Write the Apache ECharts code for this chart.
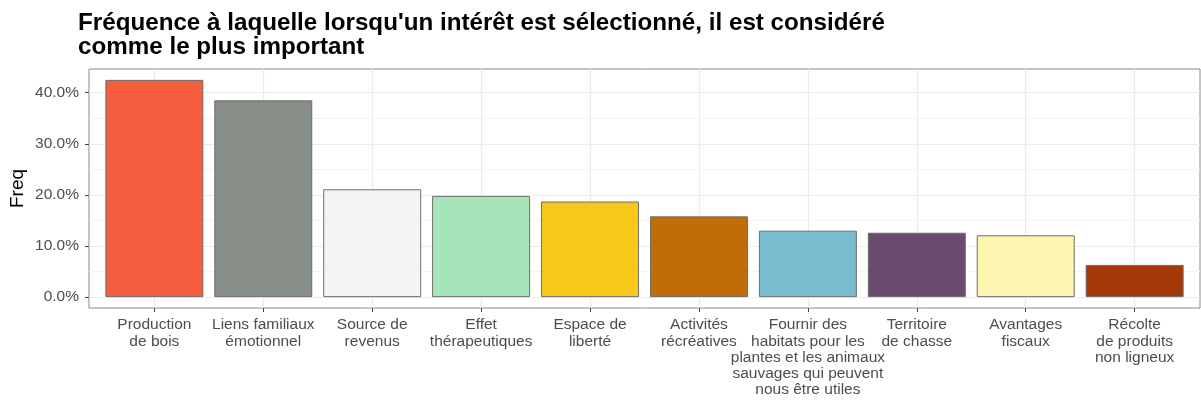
<!DOCTYPE html>
<html>
<head>
<meta charset="utf-8">
<script src="https://cdn.jsdelivr.net/npm/echarts@6/dist/echarts.min.js"></script>
<style>
  html, body { margin: 0; padding: 0; background: #fff; }
  #chart { width: 1201px; height: 403px; }
</style>
</head>
<body>
<div id="chart"></div>
<script>
// categories (x labels, already wrapped like the original)
var categories = [
  "Production\nde bois",
  "Liens familiaux\némotionnel",
  "Source de\nrevenus",
  "Effet\nthérapeutiques",
  "Espace de\nliberté",
  "Activités\nrécréatives",
  "Fournir des\nhabitats pour les\nplantes et les animaux\nsauvages qui peuvent\nnous être utiles",
  "Territoire\nde chasse",
  "Avantages\nfiscaux",
  "Récolte\nde produits\nnon ligneux"
];
// frequency in percent
var freq = [42.5, 38.5, 21.1, 19.8, 18.7, 15.8, 13.0, 12.6, 12.1, 6.3];
var barColors = ["#F55D3F", "#878D87", "#F4F4F4", "#A7E4BA", "#F6C918", "#C16C09",
                 "#77BCCF", "#6A4A6F", "#FCF5AF", "#A43A08"];
var yTicks = [0, 10, 20, 30, 40];
var yMinor = [5, 15, 25, 35];

var myChart = echarts.init(document.getElementById("chart"));

var idx = categories.map(function(c, i) { return i; });
var barData = freq.map(function(v, i) {
  return { value: [i, v], itemStyle: { color: barColors[i] } };
});

// grid lines drawn as mark lines so they sit on the category centres
var gridLines = [];
yMinor.forEach(function(v) {
  gridLines.push({ yAxis: v, lineStyle: { color: "#F4F4F4", width: 1 } });
});
idx.forEach(function(i) {
  gridLines.push({ xAxis: i, lineStyle: { color: "#EBEBEB", width: 1.2 } });
});

var option = {
  animation: false,
  title: {
    text: "Fréquence à laquelle lorsqu'un intérêt est sélectionné, il est considéré\ncomme le plus important",
    left: 73,
    top: 6,
    textStyle: {
      fontFamily: "Liberation Sans, Arial",
      fontSize: 24.2,
      fontWeight: "bold",
      color: "#000",
      lineHeight: 24
    }
  },
  grid: {
    left: 89,
    right: 1,
    top: 69,
    bottom: 95,
    outerBoundsMode: "none",
    containLabel: false,
    show: true,
    borderColor: "#8a8a8a",
    borderWidth: 1,
    backgroundColor: "#fff"
  },
  xAxis: {
    type: "value",
    min: -0.6,
    max: 9.6,
    axisLine: { show: false, onZero: false },
    axisTick: {
      show: true,
      customValues: idx,
      length: 4,
      lineStyle: { color: "#444" }
    },
    axisLabel: {
      customValues: idx,
      margin: 9,
      fontFamily: "Liberation Sans, Arial",
      fontSize: 15.5,
      lineHeight: 16.2,
      color: "#4D4D4D",
      align: "center",
      formatter: function(v) { return categories[Math.round(v)]; }
    },
    splitLine: { show: false }
  },
  yAxis: {
    type: "value",
    min: -2.125,
    max: 44.625,
    name: "Freq",
    nameLocation: "middle",
    nameRotate: 90,
    nameGap: 62,
    nameMoveOverlap: false,
    nameTextStyle: { fontFamily: "Liberation Sans, Arial", fontSize: 19, color: "#000" },
    axisLine: { show: false, onZero: false },
    axisTick: {
      show: true,
      customValues: yTicks,
      length: 4,
      lineStyle: { color: "#444" }
    },
    axisLabel: {
      customValues: yTicks,
      margin: 10,
      fontFamily: "Liberation Sans, Arial",
      fontSize: 15.5,
      color: "#4D4D4D",
      formatter: function(v) { return v.toFixed(1) + "%"; }
    },
    splitLine: { show: true, lineStyle: { color: "#EBEBEB", width: 1.2 } }
  },
  series: [
    {
      type: "bar",
      data: barData,
      barWidth: 98,
      z: 3,
      itemStyle: { borderColor: "#6e6e6e", borderWidth: 1 },
      markLine: {
        silent: true,
        symbol: "none",
        z: 1,
        label: { show: false },
        lineStyle: { type: "solid" },
        data: gridLines
      }
    }
  ]
};

myChart.setOption(option);
</script>
</body>
</html>
